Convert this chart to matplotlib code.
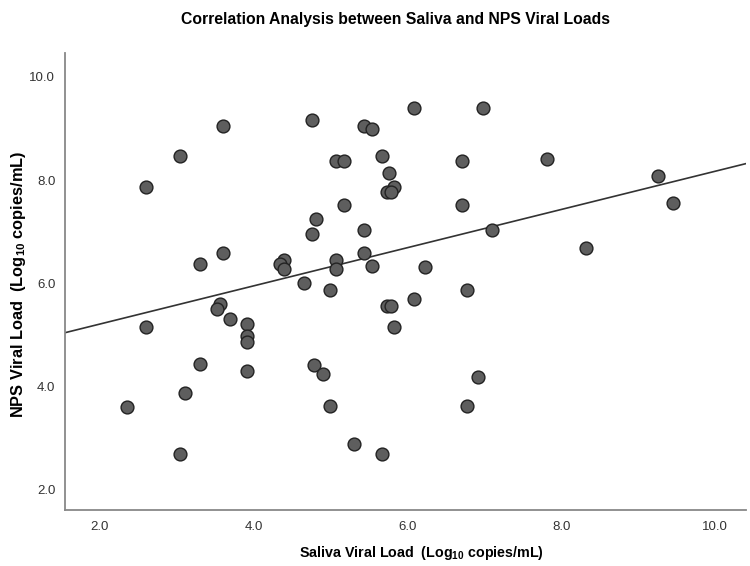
import numpy as np
import matplotlib.pyplot as plt

# saliva (x) and NPS (y) viral loads, log10 copies/mL
saliva = [2.60, 3.05, 3.60, 4.76, 5.43, 5.54, 5.67, 5.07, 5.17, 5.76,
          5.82, 5.74, 5.79, 5.17, 4.81, 4.76, 5.44, 3.60, 3.31, 5.43,
          4.40, 4.35, 4.40, 5.07, 5.07, 5.54, 6.09, 6.98, 6.71, 7.81,
          9.25, 6.71, 9.45, 7.10, 8.32, 6.23, 4.66, 4.99, 6.08, 3.57,
          3.52, 5.74, 5.79, 2.60, 3.69, 3.92, 3.92, 3.92, 5.82, 3.31,
          4.78, 4.90, 3.92, 3.11, 2.35, 4.99, 5.30, 3.05, 5.67, 6.78,
          6.92, 6.78]
nps = [7.87, 8.47, 9.05, 9.17, 9.05, 8.99, 8.47, 8.36, 8.37, 8.13,
       7.87, 7.77, 7.77, 7.51, 7.24, 6.96, 7.03, 6.59, 6.37, 6.59,
       6.45, 6.37, 6.27, 6.45, 6.27, 6.33, 9.40, 9.40, 8.37, 8.40,
       8.08, 7.51, 7.55, 7.03, 6.68, 6.32, 6.00, 5.88, 5.70, 5.59,
       5.51, 5.57, 5.57, 5.16, 5.30, 5.21, 4.98, 4.87, 5.16, 4.43,
       4.42, 4.24, 4.30, 3.88, 3.61, 3.62, 2.88, 2.69, 2.69, 5.88,
       4.19, 3.62]

# fit line as drawn
fit_intercept = 4.47
fit_slope = 0.370

plt.rcParams['font.family'] = ['Liberation Sans', 'DejaVu Sans']
plt.rcParams['mathtext.fontset'] = 'custom'
plt.rcParams['mathtext.rm'] = 'Liberation Sans:bold'
plt.rcParams['mathtext.it'] = 'Liberation Sans:bold'

fig = plt.figure(figsize=(7.5, 5.66), dpi=100)
ax = fig.add_axes([0.0867, 0.0989, 0.908, 0.8075])

xlim = (1.55, 10.40)
ax.set_xlim(xlim)
ax.set_ylim(1.61, 10.46)

xs = np.array(xlim)
ax.plot(xs, fit_intercept + fit_slope * xs, color='#333333', lw=1.2, zorder=2)
ax.scatter(saliva, nps, s=85, facecolor='#5e5e5e', edgecolor='#222222',
           linewidths=1.0, zorder=3)

ticks = [2, 4, 6, 8, 10]
ax.set_xticks(ticks)
ax.set_yticks(ticks)
ax.set_xticklabels([f'{t:.1f}' for t in ticks])
ax.set_yticklabels([f'{t:.1f}' for t in ticks])
ax.tick_params(length=0, labelsize=9.5, labelcolor='#333333')
ax.tick_params(axis='x', pad=8)
ax.tick_params(axis='y', pad=7)

for side in ['top', 'right']:
    ax.spines[side].set_visible(False)
for side in ['left', 'bottom']:
    ax.spines[side].set_color('#888888')
    ax.spines[side].set_linewidth(1.3)

ax.set_xlabel(r'Saliva Viral Load  (Log$_{10}$ copies/mL)',
              fontsize=10.3, fontweight='bold', va='center')
ax.set_ylabel(r'NPS Viral Load  (Log$_{10}$ copies/mL)',
              fontsize=11.8, fontweight='bold', va='center')
ax.xaxis.set_label_coords(0.524, -0.093)
ax.yaxis.set_label_coords(-0.069, 0.495)

fig.text(0.527, 0.965, 'Correlation Analysis between Saliva and NPS Viral Loads',
         ha='center', va='center', fontsize=11.3, fontweight='bold')

fig.savefig('out.png', dpi=100)
